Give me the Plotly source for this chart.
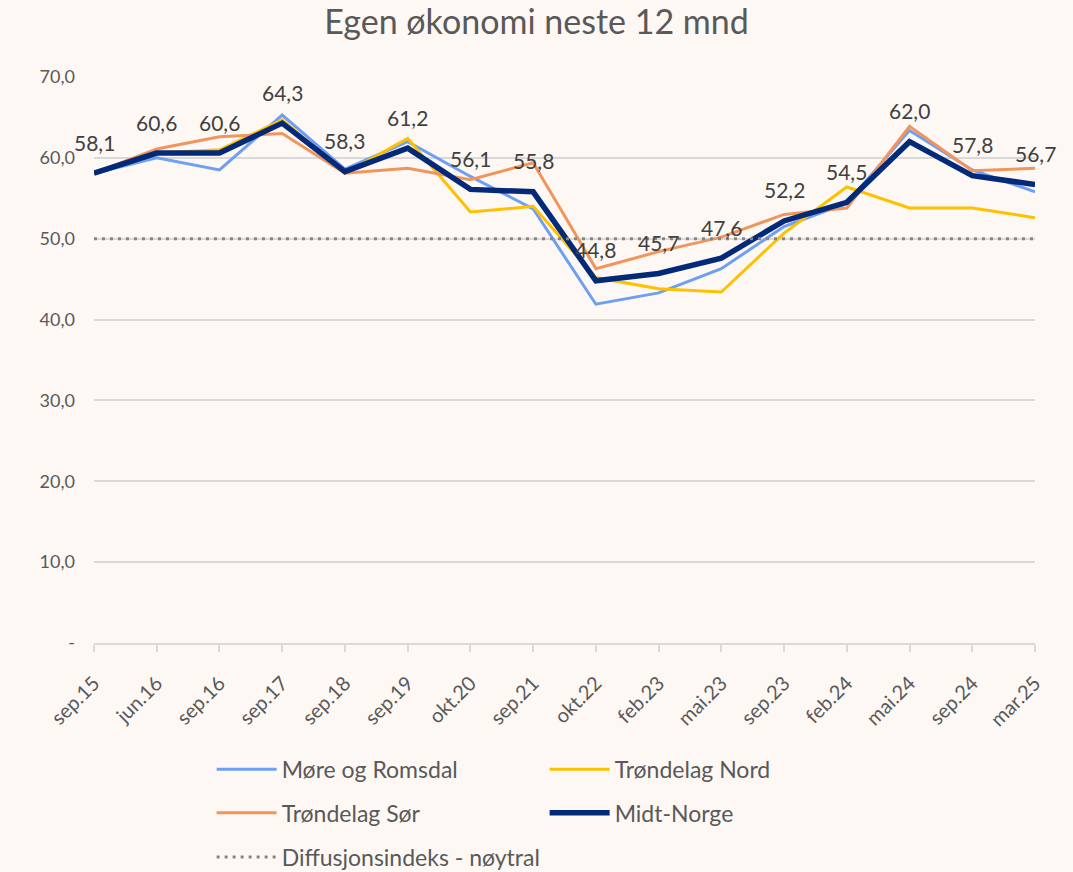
import plotly.graph_objects as go

categories = ["sep.15", "jun.16", "sep.16", "sep.17", "sep.18", "sep.19", "okt.20", "sep.21",
              "okt.22", "feb.23", "mai.23", "sep.23", "feb.24", "mai.24", "sep.24", "mar.25"]
more_romsdal = [58.1, 60.0, 58.5, 65.3, 58.6, 62.0, 57.7, 53.7, 41.9, 43.3, 46.3, 51.5, 54.4, 63.4, 58.5, 55.8]
trondelag_nord = [58.1, 60.6, 61.0, 64.7, 58.1, 62.4, 53.3, 54.0, 45.2, 43.8, 43.4, 50.7, 56.4, 53.8, 53.8, 52.6]
trondelag_sor = [58.1, 61.1, 62.6, 63.0, 58.1, 58.7, 57.3, 59.4, 46.3, 48.4, 50.2, 53.0, 53.8, 63.9, 58.4, 58.7]
midt_norge = [58.1, 60.6, 60.6, 64.3, 58.3, 61.2, 56.1, 55.8, 44.8, 45.7, 47.6, 52.2, 54.5, 62.0, 57.8, 56.7]
noytral = [50.0] * len(categories)
ytick_vals = [0, 10, 20, 30, 40, 50, 60, 70]
ytick_text = ["-", "10,0", "20,0", "30,0", "40,0", "50,0", "60,0", "70,0"]

FONT = "Lato"
TXT = "#595959"
BG = "#FEF8F5"

fig = go.Figure()
fig.add_trace(go.Scatter(x=categories, y=more_romsdal, name="Møre og Romsdal", mode="lines",
                         line=dict(color="#6E9FF2", width=3), legend="legend"))
fig.add_trace(go.Scatter(x=categories, y=trondelag_nord, name="Trøndelag Nord", mode="lines",
                         line=dict(color="#FFC000", width=3), legend="legend"))
fig.add_trace(go.Scatter(x=categories, y=trondelag_sor, name="Trøndelag Sør", mode="lines",
                         line=dict(color="#F2955C", width=3), legend="legend2"))
fig.add_trace(go.Scatter(x=categories, y=midt_norge, name="Midt-Norge", mode="lines",
                         line=dict(color="#032A78", width=5.5), legend="legend2"))
fig.add_trace(go.Scatter(x=categories, y=noytral, name="Diffusjonsindeks - nøytral", mode="lines",
                         line=dict(color="#858585", width=3, dash="3px,5px"), legend="legend3"))

for c, v in zip(categories, midt_norge):
    fig.add_annotation(x=c, y=v, text=f"{v:.1f}".replace(".", ","), showarrow=False,
                       yshift=31, font=dict(family=FONT, size=21, color="#404040"))

legend_common = dict(orientation="h", xanchor="left", yanchor="middle", entrywidth=258,
                     font=dict(family=FONT, size=23, color=TXT), bgcolor="rgba(0,0,0,0)",
                     itemwidth=60, traceorder="normal")
fig.update_layout(
    width=1073, height=872,
    paper_bgcolor=BG, plot_bgcolor=BG,
    separators=", ",
    font=dict(family=FONT, color=TXT),
    title=dict(text="Egen økonomi neste 12 mnd", x=0.5, xanchor="center", y=0.975, yanchor="middle",
               font=dict(family=FONT, size=34, color=TXT)),
    margin=dict(l=94, r=38, t=77, b=229, autoexpand=False),
    showlegend=True,
    legend=dict(legend_common, x=0.125, y=-0.223),
    legend2=dict(legend_common, x=0.125, y=-0.300),
    legend3=dict(legend_common, x=0.125, y=-0.378),
    xaxis=dict(type="category", range=[0, len(categories) - 1], showgrid=False, automargin=False,
               showline=True, linecolor="#D9D9D9", linewidth=1.5,
               ticks="outside", ticklen=7, tickcolor="#D9D9D9", tickwidth=1.5,
               ticklabelstandoff=12,
               tickangle=-45, tickfont=dict(family=FONT, size=20, color=TXT)),
    yaxis=dict(range=[0, 70], tickvals=ytick_vals, ticktext=ytick_text, automargin=False,
               showgrid=True, gridcolor="#D9D9D9", gridwidth=1.5, zeroline=False,
               showline=False, ticks="", ticklabelstandoff=18,
               tickfont=dict(family=FONT, size=18, color=TXT)),
)
fig.write_html("out.html", config={"displayModeBar": False},
               post_script=f"document.body.style.margin='0';document.body.style.background='{BG}';")
